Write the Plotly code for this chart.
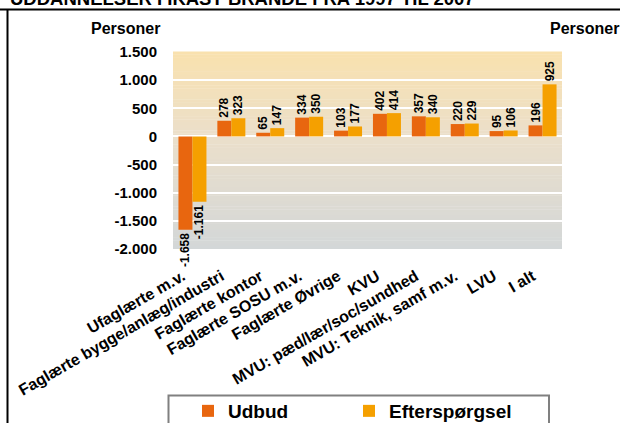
import plotly.graph_objects as go

categories = ["Ufaglærte m.v.", "Faglærte bygge/anlæg/industri", "Faglærte kontor",
              "Faglærte SOSU m.v.", "Faglærte Øvrige", "KVU",
              "MVU: pæd/lær/soc/sundhed", "MVU: Teknik, samf m.v.", "LVU", "I alt"]
udbud = [-1658, 278, 65, 334, 103, 402, 357, 220, 95, 196]
efterspoergsel = [-1161, 323, 147, 350, 177, 414, 340, 229, 106, 925]
y_tickvals = [-2000, -1500, -1000, -500, 0, 500, 1000, 1500]
y_ticktext = ["-2.000", "-1.500", "-1.000", "-500", "0", "500", "1.000", "1.500"]
title_text = "UDDANNELSER I IKAST BRANDE FRA 1997 TIL 2007"
unit_label = "Personer"

W, H = 620, 423
ML, MT = 173, 52
PW, PH = 389, 197
MR, MB = W - ML - PW, H - MT - PH
FONT = "Liberation Sans, Arial, sans-serif"
C_UDBUD = "#E8660F"
C_EFTER = "#F5A000"


def px(x):
    return (x - ML) / PW


def py(y):
    return (MT + PH - y) / PH


def fmt(v):
    return f"{v:,}".replace(",", ".")


def lerp(c1, c2, t):
    a = [int(c1[i:i + 2], 16) for i in (1, 3, 5)]
    b = [int(c2[i:i + 2], 16) for i in (1, 3, 5)]
    return "rgb(%d,%d,%d)" % tuple(round(a[k] + (b[k] - a[k]) * t) for k in range(3))


fig = go.Figure()
fig.add_trace(go.Bar(
    x=categories, y=udbud, name="Udbud", legend="legend",
    marker=dict(color=C_UDBUD, line=dict(width=0)),
    text=[fmt(v) for v in udbud], textposition="outside", textangle=-90,
    textfont=dict(family=FONT, size=12, color="black", weight="bold"),
    cliponaxis=False, constraintext="none"))
fig.add_trace(go.Bar(
    x=categories, y=efterspoergsel, name="Efterspørgsel", legend="legend2",
    marker=dict(color=C_EFTER, line=dict(width=0)),
    text=[fmt(v) for v in efterspoergsel], textposition="outside", textangle=-90,
    textfont=dict(family=FONT, size=12, color="black", weight="bold"),
    cliponaxis=False, constraintext="none"))

# gradient background bands
shapes = []
N = 70
stops = [(0.0, "#D3D7D8"), (0.571, "#EBDFCA"), (1.0, "#F9E1AE")]
for i in range(N):
    t = (i + 0.5) / N
    for j in range(len(stops) - 1):
        if stops[j][0] <= t <= stops[j + 1][0]:
            tt = (t - stops[j][0]) / (stops[j + 1][0] - stops[j][0])
            col = lerp(stops[j][1], stops[j + 1][1], tt)
            break
    shapes.append(dict(type="rect", xref="paper", yref="paper", x0=0, x1=1,
                       y0=i / N, y1=(i + 1) / N + 0.002, fillcolor=col,
                       line=dict(width=0), layer="below"))
# frame lines
shapes.append(dict(type="line", xref="paper", yref="paper", x0=px(0), x1=px(640),
                   y0=py(9.5), y1=py(9.5), line=dict(color="black", width=2)))
shapes.append(dict(type="line", xref="paper", yref="paper", x0=px(7.5), x1=px(7.5),
                   y0=py(9), y1=py(440), line=dict(color="black", width=2)))
# legend frame
shapes.append(dict(type="rect", xref="paper", yref="paper", x0=px(168.5), x1=px(549),
                   y0=py(440), y1=py(395.5), fillcolor="white",
                   line=dict(color="#808080", width=2), layer="above"))

tickfont = dict(family=FONT, size=15, color="black", weight="bold")
legfont = dict(family=FONT, size=19, color="black", weight="bold")

fig.update_layout(
    width=W, height=H,
    margin=dict(l=ML, r=MR, t=MT, b=MB, pad=0, autoexpand=False),
    paper_bgcolor="white", plot_bgcolor="rgba(0,0,0,0)",
    barmode="group", bargap=0.28, bargroupgap=0,
    shapes=shapes,
    showlegend=True,
    legend=dict(orientation="h", x=px(188), y=py(392), xanchor="left", yanchor="top",
                borderwidth=0, bgcolor="rgba(0,0,0,0)", font=legfont, itemwidth=30),
    legend2=dict(orientation="h", x=px(349), y=py(392), xanchor="left", yanchor="top",
                 borderwidth=0, bgcolor="rgba(0,0,0,0)", font=legfont, itemwidth=30),
    xaxis=dict(type="category", tickangle=-30, automargin=False,
               tickfont=dict(family=FONT, size=16, color="black", weight="bold"),
               ticks="outside", ticklen=11, tickcolor="rgba(0,0,0,0)",
               ticklabelshift=-10,
               showline=False, showgrid=False),
    yaxis=dict(range=[-2000, 1500], tickvals=y_tickvals, ticktext=y_ticktext, automargin=False,
               tickfont=tickfont, ticks="outside", ticklen=12, tickcolor="rgba(0,0,0,0)",
               showgrid=True, gridcolor="white", gridwidth=1.5,
               zeroline=True, zerolinecolor="white", zerolinewidth=1.5, showline=False),
    yaxis2=dict(range=[-2000, 1500], tickvals=y_tickvals, ticktext=y_ticktext, automargin=False,
                overlaying="y", side="right", anchor="x",
                tickfont=tickfont, ticks="outside", ticklen=16, tickcolor="rgba(0,0,0,0)",
                showgrid=False, zeroline=False, showline=False),
    annotations=[
        dict(text=title_text, xref="paper", yref="paper", x=px(8), y=py(11),
             xanchor="left", yanchor="bottom", showarrow=False,
             font=dict(family=FONT, size=18.5, color="black", weight="bold")),
        dict(text=unit_label, xref="paper", yref="paper", x=px(125), y=py(28),
             xanchor="center", yanchor="middle", showarrow=False,
             font=dict(family=FONT, size=16, color="black", weight="bold")),
        dict(text=unit_label, xref="paper", yref="paper", x=px(621), y=py(28),
             xanchor="right", yanchor="middle", showarrow=False,
             font=dict(family=FONT, size=16, color="black", weight="bold")),
    ],
)

fig.write_html("out.html", config={"displayModeBar": False},
               post_script="document.body.style.margin='0';document.body.style.overflow='hidden';")
